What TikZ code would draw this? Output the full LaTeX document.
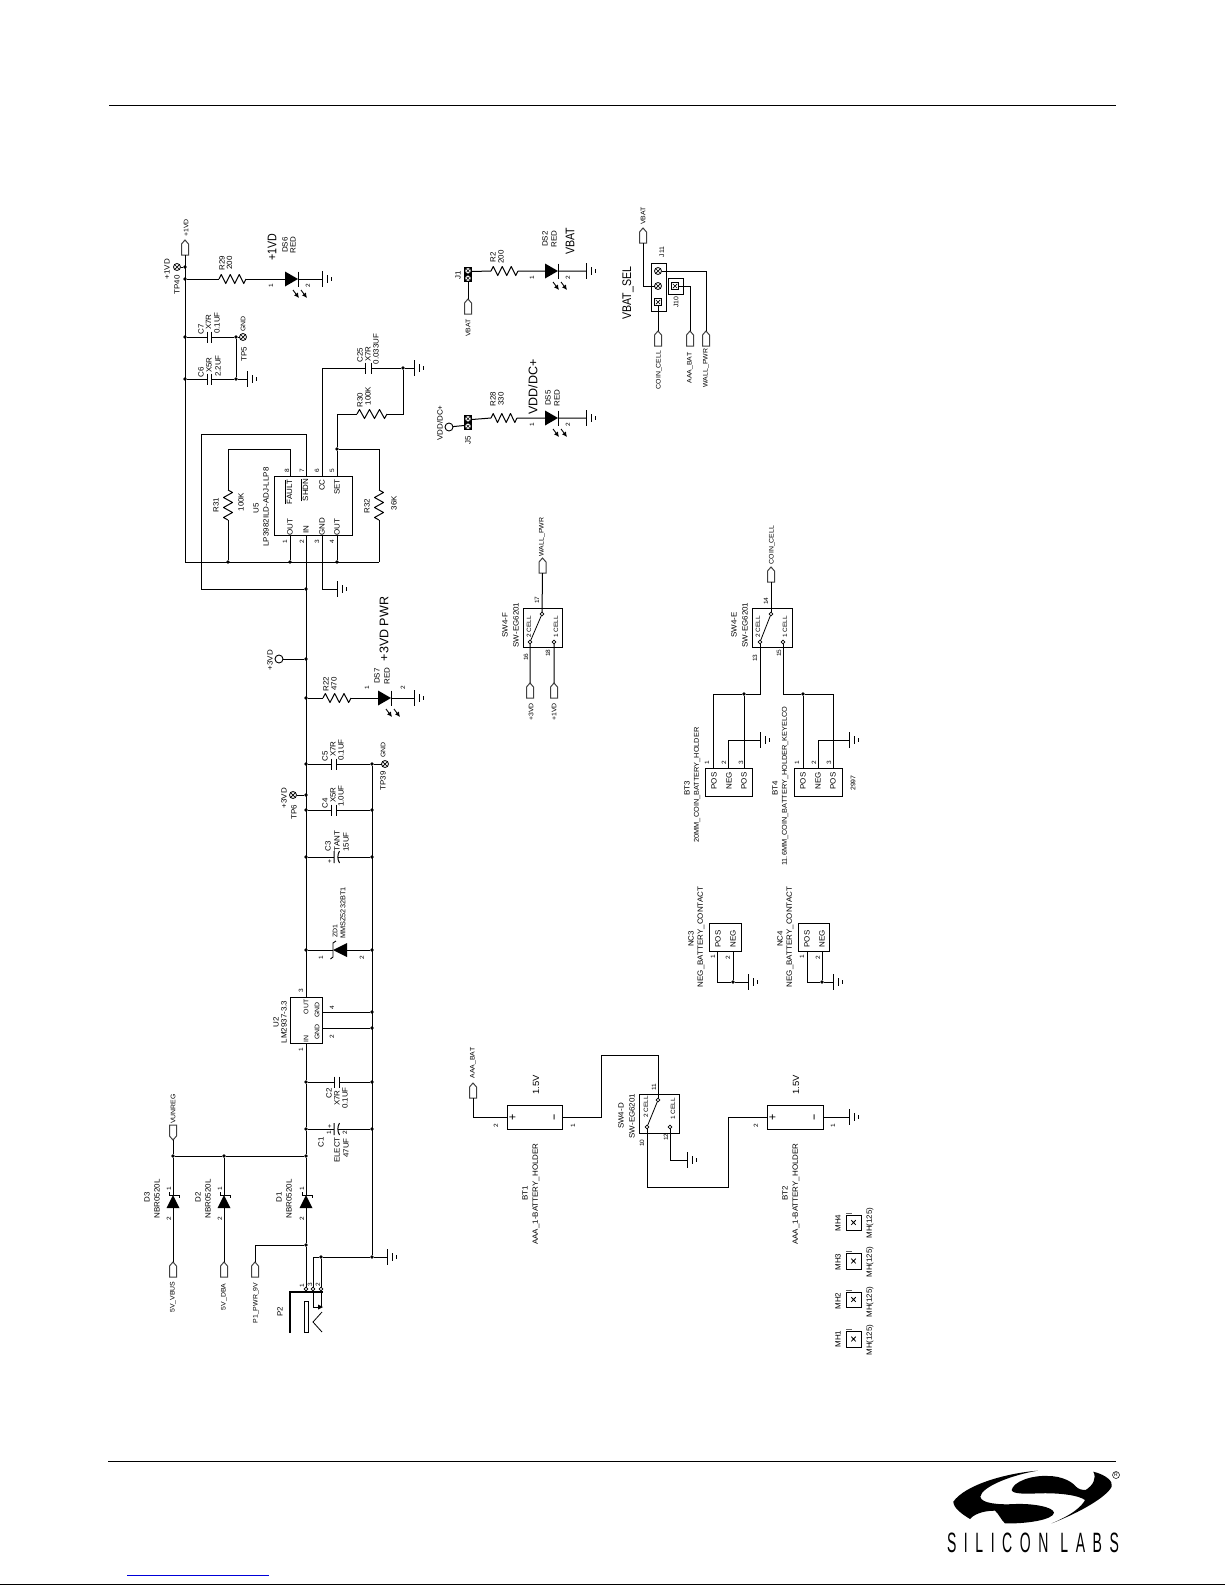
\documentclass[tikz,border=0pt]{standalone}
\usepackage{fontspec}
\usetikzlibrary{arrows.meta,calc}
\setmainfont{Liberation Sans}
\newfontfamily\schf[FakeStretch=1.05]{Liberation Sans}
\newfontfamily\bigf[FakeStretch=0.85]{Liberation Sans}
\newfontfamily\widef[FakeStretch=1.0]{Liberation Sans}
\newfontfamily\logof[FakeStretch=0.5,LetterSpace=27]{Liberation Sans}
\newcounter{tn}
\tikzset{
 wire/.style={line width=1pt,line join=miter},
 box/.style={draw,line width=1pt,inner sep=0,outer sep=0,rectangle},
 dot/.style={circle,fill=black,inner sep=0,minimum size=3.6pt,outer sep=0},
 cont/.style={circle,draw,fill=white,line width=.7pt,inner sep=0,minimum size=3.6pt,outer sep=0},
 flag/.style={draw=black!75,line width=1pt,fill=white},
 lbl/.style={rotate=90,inner sep=0,outer sep=0,text=black},
 tp/.style={circle,draw,line width=.8pt,inner sep=0,minimum size=7pt,outer sep=0},
 open/.style={circle,draw,line width=.9pt,inner sep=0,minimum size=8pt,outer sep=0},
 sqx/.style={rectangle,draw,line width=.8pt,inner sep=0,minimum size=7pt,outer sep=0},
 ledarrow/.style={line width=.9pt,-{Latex[length=5pt,width=5pt]}},
}
\newcommand\T[3]{\stepcounter{tn}\node[lbl,font=\schf\fontsize{7.6}{7.6}\selectfont] (t\thetn) at (#1,#2) {#3};}
\newcommand\Tq[3]{\stepcounter{tn}\node[lbl,font=\schf\fontsize{7}{7}\selectfont] (t\thetn) at (#1,#2) {#3};}
\newcommand\Ts[3]{\stepcounter{tn}\node[lbl,font=\schf\fontsize{6.6}{6.6}\selectfont] (t\thetn) at (#1,#2) {#3};}
\newcommand\Tp[3]{\stepcounter{tn}\node[lbl,font=\schf\fontsize{6.2}{6.2}\selectfont] (t\thetn) at (#1,#2) {#3};}
\newcommand\Tm[3]{\stepcounter{tn}\node[lbl,font=\schf\fontsize{9}{9}\selectfont] (t\thetn) at (#1,#2) {#3};}
\newcommand\Tb[3]{\stepcounter{tn}\node[lbl,font=\bigf\fontsize{12.5}{12.5}\selectfont] (t\thetn) at (#1,#2) {#3};}
\newcommand\Tw[3]{\stepcounter{tn}\node[lbl,font=\widef\fontsize{12.5}{12.5}\selectfont] (t\thetn) at (#1,#2) {#3};}
\newcommand\J[3]{\node[dot] (#1) at (#2,#3) {};}
\newcommand\C[3]{\coordinate (#1) at (#2,#3);}
\newcommand\BX[5]{\node[box,minimum width={(#4-#2)*1pt},minimum height={(#5-#3)*1pt}] (#1) at ({(#2+#4)/2},{(#3+#5)/2}) {};}
\newcommand\FU[3]{\coordinate (#1) at (#2,#3+15);\coordinate (#1t) at (#2,#3);\draw[flag] (#2,#3) -- ++(3.5,4) -- ++(0,11) -- ++(-7,0) -- ++(0,-11) -- cycle;}
\newcommand\FD[3]{\coordinate (#1) at (#2,#3);\draw[flag] (#2,#3) -- ++(3.5,-4) -- ++(0,-11) -- ++(-7,0) -- ++(0,11) -- cycle;}
\newcommand\G[3]{\coordinate (#1) at (#2,#3);\draw[wire] (#2,#3-8) -- (#2,#3+8) (#2+5,#3-3.7) -- (#2+5,#3+3.7) (#2+9,#3-2) -- (#2+9,#3+2);}
\newcommand\RH[4]{\coordinate (#1-a) at (#2,#4);\coordinate (#1-b) at (#3,#4);\pgfmathsetmacro\dd{(#3-#2)/12}
 \draw[wire,line join=round] (#1-a) -- ++(\dd,-4.5) -- ++(2*\dd,9) -- ++(2*\dd,-9) -- ++(2*\dd,9) -- ++(2*\dd,-9) -- ++(2*\dd,9) -- (#1-b);}
\newcommand\RV[4]{\coordinate (#1-a) at (#2,#3);\coordinate (#1-b) at (#2,#4);\pgfmathsetmacro\dd{(#4-#3)/12}
 \draw[wire,line join=round] (#1-a) -- ++(4.5,\dd) -- ++(-9,2*\dd) -- ++(9,2*\dd) -- ++(-9,2*\dd) -- ++(9,2*\dd) -- ++(-9,2*\dd) -- (#1-b);}
\newcommand\LED[3]{\coordinate (#1-a) at (#2,#3);\coordinate (#1-b) at (#2+13,#3);
 \fill (#2,#3-7.5) -- (#2+13,#3) -- (#2,#3+7.5) -- cycle;
 \draw[wire] (#2+13,#3-7.5) -- (#2+13,#3+7.5);
 \draw[ledarrow] (#2+8,#3+11) -- (#2+14,#3+19);\draw[ledarrow] (#2+16,#3+11) -- (#2+22,#3+19);}
\newcommand\CP[5]{\coordinate (#1-a) at (#2,#4);\coordinate (#1-b) at (#3,#4);
 \draw[wire] (#2,#4-#5) -- (#2,#4+#5) (#3,#4-#5) -- (#3,#4+#5);}
\newcommand\CPP[4]{\coordinate (#1-a) at (#2,#4);\coordinate (#1-b) at (#3,#4);
 \draw[wire] (#2,#4-6) -- (#2,#4+6) (#3+1.5,#4-6) .. controls (#3-.7,#4-2) and (#3-.7,#4+2) .. (#3+1.5,#4+6);}
\newcommand\DV[3]{\coordinate (#1-a) at (#2,#3);\coordinate (#1-b) at (#2,#3+13);
 \fill (#2-6.5,#3+13) -- (#2,#3) -- (#2+6.5,#3+13) -- cycle;
 \draw[line width=.9pt] (#2-3.5,#3-3) -- (#2-3.5,#3) -- (#2+6,#3) -- (#2+6,#3+3);}
\newcommand\TPX[3]{\node[tp] (#1) at (#2,#3) {};\draw[line width=.7pt] (#2-2.4,#3-2.4) -- (#2+2.4,#3+2.4) (#2-2.4,#3+2.4) -- (#2+2.4,#3-2.4);}
\newcommand\SQX[3]{\node[sqx] (#1) at (#2,#3) {};\draw[line width=.7pt] (#2-2.2,#3-2.2) -- (#2+2.2,#3+2.2) (#2-2.2,#3+2.2) -- (#2+2.2,#3-2.2);}
\newcommand\JB[3]{\fill (#2-4,#3-7.5) rectangle (#2+4,#3+7.5);
 \node[circle,fill=white,inner sep=0,minimum size=5.4pt] (#1-a) at (#2,#3-3.7) {};\node[circle,fill=white,inner sep=0,minimum size=5.4pt] (#1-b) at (#2,#3+3.7) {};
 \draw[line width=.6pt] (#2-1.6,#3-5.3) -- (#2+1.6,#3-2.1) (#2-1.6,#3-2.1) -- (#2+1.6,#3-5.3) (#2-1.6,#3+2.1) -- (#2+1.6,#3+5.3) (#2-1.6,#3+5.3) -- (#2+1.6,#3+2.1);
 \coordinate (#1-e) at (#2+4,#3-3);\coordinate (#1-f) at (#2+4,#3+3);\coordinate (#1-s) at (#2,#3+7.5);\coordinate (#1-w) at (#2-4,#3+3);}
\newcommand\MH[3]{\BX{#1}{846}{#2}{861}{#3}\draw[line width=.8pt] (851.2,{(#2+#3)/2-2.4}) -- (855.8,{(#2+#3)/2+2.4}) (851.2,{(#2+#3)/2+2.4}) -- (855.8,{(#2+#3)/2-2.4});\draw[black!60,line width=1pt] (846,#2-2) -- (852,#2-2);}
\begin{document}
\begin{tikzpicture}[x=1pt,y=-1pt]
\useasboundingbox (0,0) rectangle (1225,1585);
\fill[white] (0,0) rectangle (1225,1585);
% page rules
\C{hl}{109}{105}\C{hr}{1116}{105}\C{fl}{108}{1461}\C{fr}{1116}{1461}\C{bl}{0}{1584}\C{br}{1225}{1584}\C{ul}{127}{1575}\C{ur}{269}{1575}
\draw[wire] (hl) -- (hr) (fl) -- (fr) (bl) -- (br);
\draw[line width=1pt,blue!85!black] (ul) -- (ur);

% ---- +1VD rail and U5
\FU{f1}{185}{240}
\Ts{186}{228}{+1VD}
\J{j267}{185}{267}\J{j279}{185}{279}\J{j337}{185}{337}\J{j379}{185}{379}
\C{rl}{185}{562}\C{rr}{379}{562}\J{j228}{228}{562}\J{j290}{290}{562}\J{j337b}{337}{562}
\draw[wire] (f1) -- (rl) -- (rr);
\TPX{tp40}{177}{267}\draw[wire] (tp40) -- (j267);
\T{167}{269}{+1VD}\T{177}{285}{TP40}
\RH{r29}{219}{246}{279}\LED{ds6}{285}{279}\G{g1}{322}{279}
\draw[wire] (j279) -- (r29-a) (r29-b) -- (ds6-a) (ds6-b) -- (g1);
\T{222}{263}{R29}\T{229.5}{263}{200}
\Tb{272}{247}{+1VD}\T{285}{245}{DS6}\T{293}{245}{RED}\Tp{271}{286}{1}\Tp{308}{286}{2}
% C7 C6
\J{j236a}{236}{337}\J{j236b}{236}{379}
\CP{c7}{207}{211}{337}{5.5}\CP{c6}{207}{211}{379}{5.5}
\TPX{tp5}{243}{337}\G{g2}{247}{379}
\draw[wire] (j337) -- (c7-a) (c7-b) -- (j236a) -- (tp5) (j236a) -- (j236b) (j379) -- (c6-a) (c6-b) -- (j236b) -- (g2);
\T{201}{329}{C7}\T{208.5}{322}{X7R}\T{217}{323}{0.1UF}\Ts{243}{324}{GND}\T{244}{354}{TP5}
\T{201}{372}{C6}\T{209}{365}{X5R}\T{218}{366}{2.2UF}
% U5
\BX{u5}{274}{476}{352}{535}
\C{p8}{290}{476}\C{p7}{306}{476}\C{p6}{322}{476}\C{p5}{337}{476}\C{p1}{290}{535}\C{p2}{306}{535}\C{p3}{322}{535}\C{p4}{337}{535}
\T{288.5}{492}{$\overline{\hbox{FAULT}}$}\T{304.5}{490}{$\overline{\hbox{SHDN}}$}\T{322}{485}{CC}\T{337}{487}{SET}
\T{290}{527}{OUT}\T{306}{530}{IN}\T{322}{527}{GND}\T{337}{527}{OUT}
\Tp{287}{471}{8}\Tp{302}{471}{7}\Tp{317}{471}{6}\Tp{332}{471}{5}\Tp{285}{542}{1}\Tp{302}{542}{2}\Tp{317}{542}{3}\Tp{332}{542}{4}
\T{256}{508}{U5}\T{266}{507}{LP3982ILD-ADJ-LLP8}
\RV{r31}{228}{490}{520}\RV{r32}{379}{490}{520}
\T{216}{505}{R31}\T{241}{502}{100K}\T{367}{506}{R32}\T{394}{503}{36K}
\C{c8}{228}{449}\C{c7a}{201}{434}\C{c7b}{201}{589}\J{j589}{306}{589}
\draw[wire] (p8) |- (c8) -- (r31-a) (r31-b) -- (j228) (p1) -- (j290) (p4) -- (j337b);
\draw[wire] (p7) |- (c7a) -- (c7b) -- (j589);
\J{j449}{337}{449}\C{c379}{379}{449}
\draw[wire] (p5) -- (j449) -- (c379) -- (r32-a) (r32-b) -- (rr);
% C25 R30
\CP{c25}{365}{371}{368}{5.5}\J{j403}{403}{368}\G{g3}{414}{368}\C{c322}{322}{368}
\draw[wire] (p6) -- (c322) -- (c25-a) (c25-b) -- (j403) -- (g3);
\RH{r30}{357}{387}{414}\C{c337}{337}{414}\C{c403}{403}{414}
\draw[wire] (j449) -- (c337) -- (r30-a) (r30-b) -- (c403) -- (j403);
\T{360}{355}{C25}\T{368}{354}{X7R}\T{376}{349}{0.033UF}\T{360}{400}{R30}\T{368}{396}{100K}
\C{c3p}{322}{589}\G{g4}{337}{589}
\draw[wire] (p3) -- (c3p) -- (g4);

% ---- main 3V rail
\J{j659}{306}{659}\J{j698}{306}{698}\J{j764}{306}{764}\J{j795}{306}{795}\J{j810}{306}{810}\J{j857}{306}{857}\J{j950}{306}{950}
\J{g764}{372}{764}\J{g810}{372}{810}\J{g857}{372}{857}\J{g950}{372}{950}\J{g1012}{372}{1012}\J{g1028}{372}{1028}\J{g1082}{372}{1082}\J{g1129}{372}{1129}\J{g1257}{372}{1257}
\BX{u2}{290}{997}{322}{1043}\C{u2o}{306}{997}\C{u2i}{306}{1043}\C{u2g1}{322}{1012}\C{u2g2}{322}{1028}
\draw[wire] (p2) -- (u2o);
\draw[wire] (g764) -- (g1257);
\draw[wire] (u2g1) -- (g1012) (u2g2) -- (g1028);
\node[open] (o3) at (279,659) {};\draw[wire] (o3) -- (j659);
\T{270}{660}{+3VD}
\RH{r22}{323}{351}{698}\LED{ds7}{378}{698}\G{g5}{414}{698}
\draw[wire] (j698) -- (r22-a) (r22-b) -- (ds7-a) (ds7-b) -- (g5);
\T{326}{684}{R22}\T{334}{684}{470}\T{377}{676}{DS7}\T{387}{676}{RED}\Tp{367}{688}{1}\Tp{403}{688}{2}
\Tw{384}{629}{+3VD  PWR}
\CP{c5}{331}{336}{764}{5.5}\CP{c4}{331}{336}{810}{5.5}\CPP{c3}{334}{338}{857}
\draw[wire] (j764) -- (c5-a) (c5-b) -- (g764) (j810) -- (c4-a) (c4-b) -- (g810) (j857) -- (c3-a) (c3-b) -- (g857);
\TPX{tp39}{385}{764}\draw[wire] (g764) -- (tp39);
\TPX{tp6}{293}{795}\draw[wire] (tp6) -- (j795);
\T{325}{756}{C5}\T{333}{749}{X7R}\T{341}{750}{0.1UF}\Ts{383}{750}{GND}\T{383}{781}{TP39}
\T{284}{798}{+3VD}\T{294}{812}{TP6}
\T{325}{803}{C4}\T{333}{795}{X5R}\T{341}{796}{1.0UF}
\Ts{330}{861}{+}\T{328}{846}{C3}\T{337}{841}{TANT}\T{346}{842}{15UF}
% zener
\C{zd-a}{333}{950}\C{zd-b}{347}{950}
\fill (347,943) -- (333,950) -- (347,957) -- cycle;
\draw[line width=.9pt] (336,941) -- (333,943) -- (333,957) -- (330.5,959);
\draw[wire] (j950) -- (zd-a) (zd-b) -- (g950);
\Ts{335}{931}{ZD1}\Tq{343}{913}{MMSZ5232BT1}\Tp{321}{958}{1}\Tp{362}{958}{2}
% U2
\Ts{306}{1007}{OUT}\Ts{317}{1010}{GND}\Ts{317}{1032}{GND}\Ts{306}{1039}{IN}
\Tp{301}{991}{3}\Tp{332}{1008}{4}\Tp{332}{1037}{2}\Tp{301}{1050}{1}
\T{276}{1022}{U2}\T{284}{1022}{LM2937-3.3}
% C2 C1
\J{j1082}{306}{1082}\J{j1129}{306}{1129}\J{j1156}{306}{1156}\J{j1245}{306}{1245}
\CP{c2}{334}{339}{1082}{5.5}\CPP{c1}{334}{338}{1129}
\draw[wire] (j1082) -- (c2-a) (c2-b) -- (g1082) (j1129) -- (c1-a) (c1-b) -- (g1129);
\T{329}{1093}{C2}\T{337}{1098}{X7R}\T{345}{1098}{0.1UF}
\Ts{330}{1126}{+}\Tp{329}{1133}{1}\Tp{345}{1133}{2}\T{321}{1142}{C1}\T{337}{1150}{ELECT}\T{346}{1148}{47UF}
% diodes
\J{j173}{173}{1156}\J{j224}{224}{1156}
\DV{d3}{173}{1195}\DV{d2}{224}{1195}\DV{d1}{306}{1195}
\FD{fv}{173}{1140}\Ts{173}{1109}{VUNREG}
\FU{fb}{173}{1262}\FU{fd}{224}{1262}\FU{fp}{255}{1262}
\draw[wire] (fv) -- (j173) -- (j224) -- (j1156) (j173) -- (d3-a) (d3-b) -- (fbt) (j224) -- (d2-a) (d2-b) -- (fdt);
\draw[wire] (u2i) -- (j1082) -- (j1129) -- (j1156) -- (d1-a) (d1-b) -- (j1245);
\draw[wire] (j1245) -| (fpt);
\T{147}{1197}{D3}\T{157}{1199}{NBR0520L}\Tp{169}{1189}{1}\Tp{169}{1219}{2}\Ts{173}{1297}{5V\_VBUS}
\T{198}{1197}{D2}\T{208}{1199}{NBR0520L}\Tp{220}{1189}{1}\Tp{220}{1219}{2}\Ts{224}{1297}{5V\_DBA}
\T{279}{1197}{D1}\T{289}{1199}{NBR0520L}\Tp{302}{1189}{1}\Tp{302}{1219}{2}\Ts{256}{1303}{P1\_PWR\_9V}
% P2
\draw[line width=2pt] (290,1333) -- (290,1292) -- (323,1292);
\node[cont] (p21) at (306,1289) {};\node[cont] (p23) at (313,1289) {};\node[cont] (p22) at (321,1289) {};
\BX{p2r}{304}{1301}{308}{1332}
\J{j321}{321}{1257}\C{c313}{313}{1257}\C{c3ar}{313}{1307}\C{c3at}{321}{1307}
\draw[wire] (j1245) -- (p21) (g1257) -- (j321) -- (c313) -- (p23) (j321) -- (p22);
\draw[line width=.8pt] (p23) -- (c3ar) -- (c3at);\draw[line width=.8pt] (p22) -- (321,1307);
\fill (323,1307) -- (318,1304.5) -- (318,1309.5) -- cycle;
\draw[line width=.8pt] (322,1312) -- (313,1322) -- (322,1332);
\G{g6}{387}{1257}\draw[wire] (g1257) -- (g6);
\T{280}{1312}{P2}\Tp{302}{1286}{1}\Tp{310}{1285}{3}\Tp{318}{1285}{2}

% ---- LEDs top centre
\JB{j1}{468}{274.5}\FU{fvb}{468}{299}
\draw[wire] (j1-s) -- (fvbt);
\T{458}{275}{J1}\Ts{468}{328}{VBAT}
\RH{r2}{491}{518}{271}\LED{ds2}{545}{271}\G{g7}{586}{271}
\draw[wire] (j1-e) -- (r2-a) (r2-b) -- (ds2-a) (ds2-b) -- (g7);
\T{493}{257}{R2}\T{501}{257}{200}\T{545}{239}{DS2}\T{554}{239}{RED}\Tb{570}{241}{VBAT}\Tp{532}{278}{1}\Tp{568}{278}{2}
\JB{j5}{468}{422.5}\node[open] (o5) at (449,427) {};
\draw[wire] (o5) -- (j5-w);
\T{440}{423}{VDD/DC+}\T{468}{440}{J5}
\RH{r28}{491}{517}{418}\LED{ds5}{545}{418}\G{g8}{586}{418}
\draw[wire] (j5-e) -- (r28-a) (r28-b) -- (ds5-a) (ds5-b) -- (g8);
\T{493}{399}{R28}\T{501}{399}{330}\Tw{533}{387}{VDD/DC+}\T{548}{398}{DS5}\T{557}{398}{RED}\Tp{532}{425}{1}\Tp{568}{425}{2}

% ---- J11 J10
\BX{j11}{651}{263}{666}{311}\BX{j10}{668}{278}{683}{294}
\TPX{j11a}{658}{271}\TPX{j11b}{658}{286}\SQX{j11c}{658}{302}\SQX{j10a}{675}{286}
\FU{fv2}{643}{228}\FU{fc}{658}{331}\FU{fa}{690}{331}\FU{fw}{706}{331}
\draw[wire] (fv2) |- (j11b);
\draw[wire] (j11c) -- (fct) (j10a) -| (fat) (j11a) -| (fwt);
\Ts{643}{216}{VBAT}\Ts{659}{370}{COIN\_CELL}\Ts{690}{368}{AAA\_BAT}\Ts{706}{368}{WALL\_PWR}
\Ts{662}{252}{J11}\Ts{676}{302}{J10}\Tb{628}{293}{VBAT\_SEL}

% ---- SW4-F
\BX{swf}{523}{608}{562}{647}
\node[cont] (swfc) at (542,614) {};\node[cont] (swfl) at (530,642) {};\node[cont] (swfr) at (554,642) {};
\draw[line width=.8pt] (swfl) -- (swfc);
\FU{ff1}{542.5}{558}\FU{ff2}{530}{683}\FU{ff3}{554}{683}
\draw[wire] (ff1) -- (swfc) (swfl) -- (ff2t) (swfr) -- (ff3t);
\Ts{542}{537}{WALL\_PWR}\Ts{531}{712}{+3VD}\Ts{554}{712}{+1VD}
\Tp{529}{627}{2 CELL}\Tp{556}{627}{1 CELL}\T{505}{625}{SW4-F}\T{516}{625}{SW-EG6201}
\Tp{537}{600}{17}\Tp{526}{657}{16}\Tp{548}{653}{18}
% ---- SW4-E
\BX{swe}{752}{608}{792}{647}
\node[cont] (swec) at (771,614) {};\node[cont] (swel) at (760,642) {};\node[cont] (swer) at (783,642) {};
\draw[line width=.8pt] (swel) -- (swec);
\FU{fe1}{771}{567}\draw[wire] (fe1) -- (swec);
\Ts{772}{545}{COIN\_CELL}
\Tp{758}{627}{2 CELL}\Tp{785}{627}{1 CELL}\T{734}{625}{SW4-E}\T{745}{625}{SW-EG6201}
\Tp{766}{601}{14}\Tp{755}{658}{13}\Tp{779}{653}{15}
% BT3
\BX{bt3}{705}{768}{752}{796}
\C{b3p1}{713}{768}\C{b3p2}{728}{768}\C{b3p3}{744}{768}\J{j744}{744}{694}\C{c713}{713}{694}\C{c760}{760}{694}\G{g9}{760}{740}
\draw[wire] (swel) -- (c760) -- (j744) -- (c713) -- (b3p1) (j744) -- (b3p3) (b3p2) |- (g9);
\T{714}{781}{POS}\T{729}{781}{NEG}\T{744}{781}{POS}\Tp{707}{763}{1}\Tp{724}{763}{2}\Tp{741}{763}{3}
\T{687}{788}{BT3}\Tq{697}{785}{20MM\_COIN\_BATTERY\_HOLDER}
% BT4
\BX{bt4}{794}{768}{842}{796}
\C{b4p1}{803}{768}\C{b4p2}{818}{768}\C{b4p3}{833}{768}\J{j803}{803}{694}\C{c833}{833}{694}\C{c783}{783}{694}\G{g10}{849}{740}
\draw[wire] (swer) -- (c783) -- (j803) -- (c833) -- (b4p3) (j803) -- (b4p1) (b4p2) |- (g10);
\T{803}{781}{POS}\T{818}{781}{NEG}\T{833}{781}{POS}\Tp{797}{763}{1}\Tp{814}{763}{2}\Tp{829}{763}{3}
\T{775}{788}{BT4}\Tq{785}{786}{11.6MM\_COIN\_BATTERY\_HOLDER\_KEYELCO}\Ts{853}{783}{2997}
% NC3 NC4
\BX{nc3}{709}{923}{741}{951}\C{n3a}{717}{951}\C{n3b}{733}{951}\C{n3c}{717}{982}\J{j733}{733}{982}\G{g11}{748}{982}
\draw[wire] (n3a) -- (n3c) -- (j733) -- (g11) (n3b) -- (j733);
\T{718}{939}{POS}\T{733}{939}{NEG}\Tp{713}{957}{1}\Tp{728}{958}{2}\T{691}{939}{NC3}\T{701}{937}{NEG\_BATTERY\_CONTACT}
\BX{nc4}{798}{923}{829}{951}\C{n4a}{807}{951}\C{n4b}{822}{951}\C{n4c}{807}{982}\J{j822}{822}{982}\G{g12}{833}{982}
\draw[wire] (n4a) -- (n4c) -- (j822) -- (g12) (n4b) -- (j822);
\T{807}{939}{POS}\T{822}{939}{NEG}\Tp{802}{957}{1}\Tp{818}{958}{2}\T{780}{939}{NC4}\T{790}{937}{NEG\_BATTERY\_CONTACT}

% ---- BT1 SW4-D BT2
\FU{fab}{473}{1083}\Ts{473}{1063}{AAA\_BAT}
\BX{bt1}{507}{1105}{562}{1129}\C{b1l}{507}{1117}\C{b1r}{562}{1117}
\draw[wire] (fab) |- (b1l);
\Tb{513}{1117}{+}\Tb{556}{1117}{−}\Tp{496}{1126}{2}\Tp{573}{1126}{1}\Tm{536}{1085}{1.5V}\T{525}{1193}{BT1}\T{536}{1194}{AAA\_1-BATTERY\_HOLDER}
\BX{swd}{639}{1094}{679}{1133}
\node[cont] (swdc) at (658,1100) {};\node[cont] (swdl) at (647,1127) {};\node[cont] (swdr) at (670,1127) {};
\draw[line width=.8pt] (swdl) -- (swdc);
\C{c601a}{601}{1117}\C{c601b}{601}{1055}\C{c658}{658}{1055}
\draw[wire] (b1r) -- (c601a) -- (c601b) -- (c658) -- (swdc);
\C{c647}{647}{1187}\C{c728a}{728}{1187}\C{c728b}{728}{1117}\BX{bt2}{767}{1105}{823}{1129}\C{b2l}{767}{1117}\C{b2r}{823}{1117}\G{g13}{849}{1117}\G{g14}{687}{1160}
\draw[wire] (swdl) -- (c647) -- (c728a) -- (c728b) -- (b2l) (b2r) -- (g13);
\draw[wire] (swdr) |- (g14);
\Tp{646}{1107}{2 CELL}\Tp{673}{1109}{1 CELL}\T{621}{1116}{SW4-D}\T{632}{1116}{SW-EG6201}\Tp{654}{1087}{11}\Tp{642}{1143}{10}\Tp{666}{1137}{12}
\Tb{773}{1117}{+}\Tb{816}{1117}{−}\Tp{756}{1126}{2}\Tp{833}{1126}{1}\Tm{796}{1085}{1.5V}\T{785}{1193}{BT2}\T{796}{1194}{AAA\_1-BATTERY\_HOLDER}
% ---- mounting holes
\MH{mh4}{1215}{1230}\MH{mh3}{1253}{1269}\MH{mh2}{1292}{1307}\MH{mh1}{1331}{1347}
\T{838}{1223}{MH4}\T{838}{1262}{MH3}\T{838}{1301}{MH2}\T{838}{1339}{MH1}
\T{870}{1223}{MH(125)}\T{870}{1262}{MH(125)}\T{870}{1302}{MH(125)}\T{870}{1340}{MH(125)}

% ---- logo
\begin{scope}[shift={(925,1440)},x=.33333pt,y=-.33333pt]
\fill (338,92) .. controls (240,100) and (120,135) .. (85,185) .. controls (85,205) and (115,225) .. (135,237)
 .. controls (145,225) and (170,212) .. (210,212) .. controls (222,222) and (228,240) .. (240,250)
 .. controls (300,252) and (385,240) .. (387,218) .. controls (385,200) and (320,190) .. (270,192)
 .. controls (220,195) and (168,190) .. (166,170) .. controls (170,140) and (260,105) .. (338,92) -- cycle;
\fill (505,95) .. controls (545,105) and (565,125) .. (560,140) .. controls (545,170) and (470,215) .. (380,250)
 .. controls (440,225) and (470,200) .. (480,180) .. controls (460,165) and (400,158) .. (340,160)
 .. controls (300,162) and (262,162) .. (260,150) .. controls (265,125) and (320,105) .. (370,108)
 .. controls (410,108) and (440,125) .. (450,137) .. controls (460,148) and (470,150) .. (482,150)
 .. controls (505,135) and (515,115) .. (505,95) -- cycle;
\end{scope}
\node[inner sep=0,font=\logof\fontsize{28}{28}\selectfont] (logotext) at (1033,1543) {SILICON\hspace{12pt}LABS};
\node[circle,draw,line width=.5pt,inner sep=0,minimum size=7pt,font=\fontsize{5}{5}\selectfont] (reg) at (1116,1475) {R};
\end{tikzpicture}
\end{document}
